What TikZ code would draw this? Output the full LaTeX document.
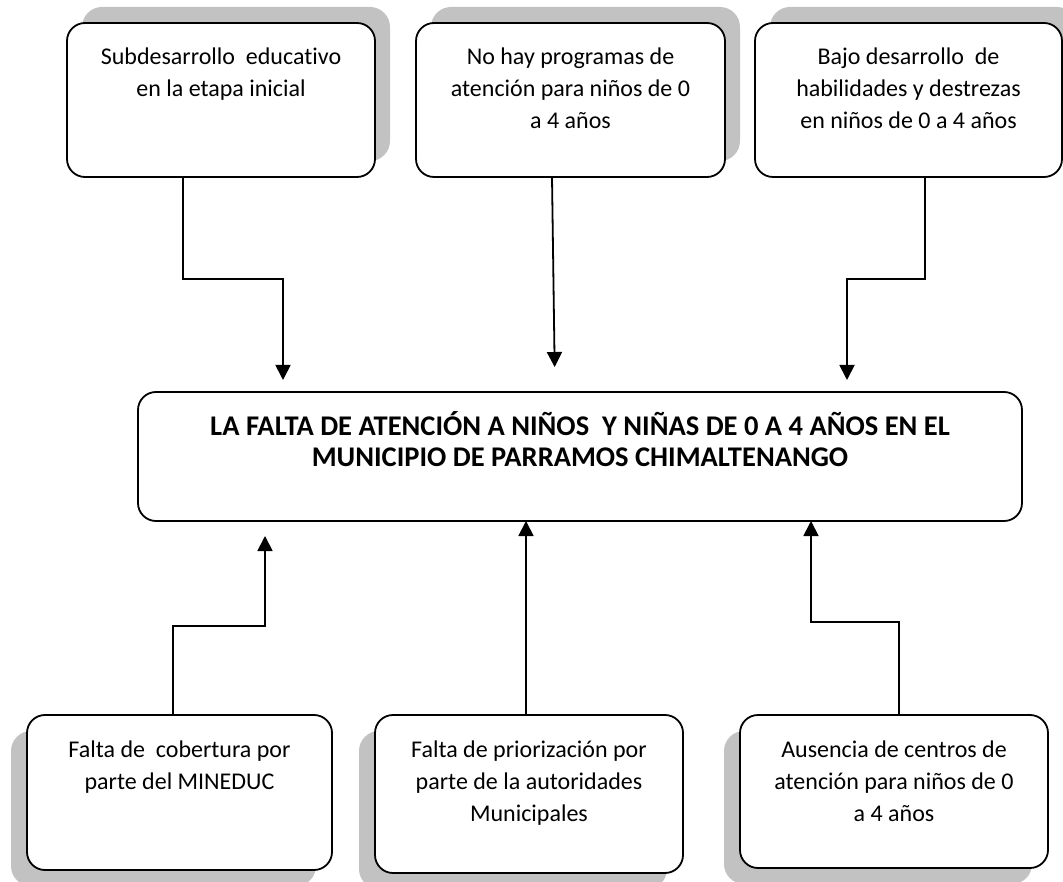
\documentclass[tikz,border=0pt]{standalone}
\usepackage{fontspec}
\setmainfont[Ligatures=NoCommon]{Carlito}
\usetikzlibrary{arrows.meta,backgrounds,calc}
\definecolor{shadowc}{RGB}{194,194,194}
\newcommand\smalltext[3]{\parbox[c][#2][t]{#1}{\centering\fontsize{24}{32}\selectfont\rule{0pt}{42pt}#3}}
\newcommand\bigtext[3]{\parbox[c][#2][t]{#1}{\centering\fontsize{28.5}{31}\selectfont\bfseries\rule{0pt}{43pt}#3}}
\begin{document}
\begin{tikzpicture}[x=1pt,y=-1pt,
  boxa/.style={draw, fill=white, rounded corners=18pt, line width=1.8pt, inner sep=0pt, outer sep=0pt},
  arr/.style={line width=1.8pt, -{Triangle[width=15pt,length=15pt]}},
  shad/.style={fill=shadowc, rounded corners=20pt}]
\useasboundingbox (0,0) rectangle (1063,882);

% top boxes (effects)
\node[boxa] (t1) at (221,100) {\smalltext{308pt}{154pt}{Subdesarrollo\ \ educativo\\en la etapa inicial}};
\node[boxa] (t2) at (570.5,100) {\smalltext{309pt}{154pt}{No hay programas de\\atención para niños de 0\\a 4 años}};
\node[boxa] (t3) at (908.5,100) {\smalltext{307pt}{154pt}{Bajo desarrollo\ \ de\\habilidades y destrezas\\en niños de 0 a 4 años}};

% central problem
\node[boxa] (c) at (580,456.5) {\bigtext{884pt}{129pt}{LA FALTA DE ATENCIÓN A NIÑOS\ \ Y NIÑAS DE 0 A 4 AÑOS EN EL\\MUNICIPIO DE PARRAMOS CHIMALTENANGO}};

% bottom boxes (causes)
\node[boxa] (b1) at (179.5,792.5) {\smalltext{305pt}{155pt}{Falta de\ \ cobertura por\\parte del MINEDUC}};
\node[boxa] (b2) at (529,794) {\smalltext{308pt}{158pt}{Falta de priorización por\\parte de la autoridades\\Municipales}};
\node[boxa] (b3) at (894,791.5) {\smalltext{308pt}{153pt}{Ausencia de centros de\\atención para niños de 0\\a 4 años}};

% background and shadows
\begin{pgfonlayer}{background}
\fill[white] (0,0) rectangle (1063,882);
\foreach \n in {t1,t2,t3}{
  \path[shad] ([shift={(15,-16)}]\n.south west) rectangle ([shift={(15,-16)}]\n.north east);
}
\foreach \n in {b1,b2,b3}{
  \path[shad] ([shift={(-16,16)}]\n.south west) rectangle ([shift={(-16,16)}]\n.north east);
}
\end{pgfonlayer}

% arrows from effects down to problem
\draw[arr, shorten >=12pt] (t1.south -| 183,0) |- (283,279) -- (c.north -| 283,0);
\draw[arr, shorten >=25pt] (t2.south -| 552,0) -- (c.north -| 555,0);
\draw[arr, shorten >=12pt] (t3.south -| 925,0) |- (847,279) -- (c.north -| 847,0);

% arrows from causes up to problem
\draw[arr, shorten >=15pt] (b1.north -| 173,0) |- (265,626) -- (c.south -| 265,0);
\draw[arr] (b2.north -| 526,0) -- (c.south -| 526,0);
\draw[arr] (b3.north -| 899,0) |- (811,622) -- (c.south -| 811,0);
\end{tikzpicture}
\end{document}
